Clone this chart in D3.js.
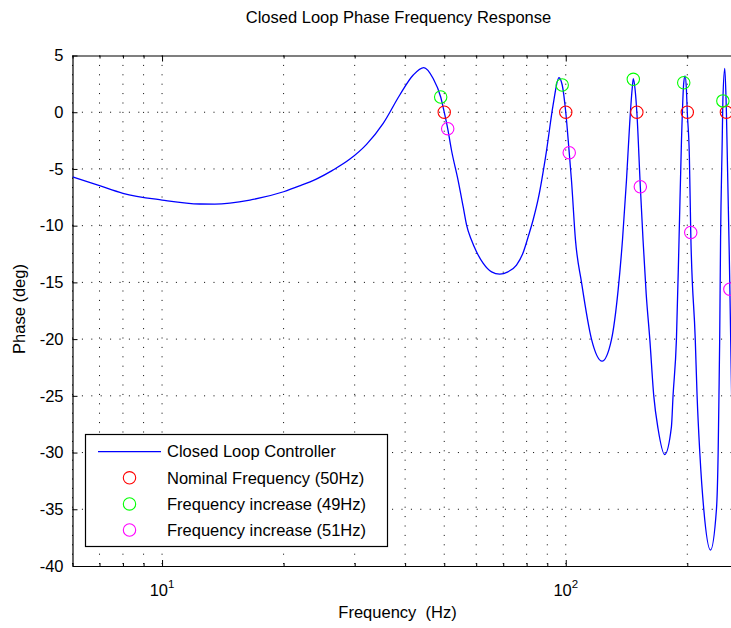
<!DOCTYPE html>
<html>

<head>
  <meta charset="utf-8">
  <title>Closed Loop Phase Frequency Response</title>
  <style>
  body {
    margin: 0;
    background: #fff;
  }
  svg {
    display: block;
    font-family: "Liberation Sans", Arial, sans-serif;
  }
  .grid line {
    stroke: #000;
    stroke-width: 1;
    stroke-dasharray: 1, 8.4;
  }
  </style>
</head>

<body>
  <svg width="731" height="628"></svg>
  <script src="https://d3js.org/d3.v7.min.js"></script>
  <script>
    // closed loop phase curve (Hz, deg)
    var curveFreq = [6, 7, 8, 10, 12.4, 13.5, 16.5, 20, 21.9, 24.1, 26.5, 29.2, 32.1, 35.3, 38.8, 41.9, 44.5, 46.9,
      49, 50, 51, 52.1, 54.1, 55.7, 56.8, 58.4, 60.1, 62.4, 65.5, 68.6, 71.9, 75.5, 78.3, 80.7, 83, 85.5, 89.6, 93,
      96.2, 98, 100, 102, 103.3, 105.7, 109.4, 115.8, 123, 129.7, 134.8, 138.2, 141.4, 144, 146, 147, 148.5,
      150, 153, 155.4, 158.2, 161.5, 165.2, 169.3, 175.8, 182.7, 184.4, 188, 190.8, 193.5, 196, 197.5, 199,
      200, 202.4, 204, 209.3, 211.5, 214.8, 219.7, 228.3, 236.2, 238.5, 239.6, 240.6, 241.8, 244.1, 245, 247.7,
      250, 255, 260];
    var curvePhase = [-5.69, -6.48, -7.15, -7.74, -8.09, -8.1, -7.74, -7.01, -6.5, -5.89, -5.1, -4.13, -2.83, -0.98, 1.52, 3.28, 3.93, 2.99,
      1.34, 0, -1.45, -3.33, -5.98, -8.33, -9.95, -11.27, -12.3, -13.3, -14.07, -14.27, -14.07, -13.47, -12.44, -10.98, -9.5, -7.6, -3.4, 0.6,
      3.04, 2.4, 0, -3.57, -5.98, -11.27, -15, -20, -21.94, -20.09, -15.68, -11.27, -5.98, -1, 2, 2.95, 2,
      0, -6.57, -11.27, -16, -20, -25, -27.9, -30.17, -27.73, -25, -20, -11.27, -2.45, 2.6, 3.2, 2,
      0, -3.92, -10.6, -20, -25, -30, -35, -38.6, -35, -30, -25, -20, -11.27, -2.45, 1, 3.87,
      0, -15.6, -34];

    // markers
    var nomFreq = [50, 100, 150, 200, 250];
    var nomPhase = [0, 0, 0, 0, 0];
    var lowFreq = [49, 98, 147, 196, 245];
    var lowPhase = [1.34, 2.4, 2.9, 2.6, 1.0];
    var highFreq = [51, 102, 153, 204, 255];
    var highPhase = [-1.45, -3.57, -6.57, -10.6, -15.6];

    var yTicks = [5, 0, -5, -10, -15, -20, -25, -30, -35, -40];
    var xMajor = [10, 100];
    var xMajorExp = ["1", "2"];
    var legendLabels = ["Closed Loop Controller", "Nominal Frequency (50Hz)",
      "Frequency increase (49Hz)", "Frequency increase (51Hz)"];
    var legendColors = ["#0000ff", "#ff0000", "#00ff00", "#ff00ff"];

    var svg = d3.select("svg");
    var plotLeft = 72.5, plotTop = 55.5, plotBottom = 566, decade = 403.7;
    var fontSize = 16.5;

    var xScale = d3.scaleLog().domain([6, 300])
      .range([plotLeft, plotLeft + decade * Math.log10(300 / 6)]);
    var yScale = d3.scaleLinear().domain([-40, 5]).range([plotBottom, plotTop]);
    var xRight = xScale.range()[1];

    svg.append("defs").append("clipPath").attr("id", "plotClip")
      .append("rect")
      .attr("x", plotLeft).attr("y", plotTop)
      .attr("width", xRight - plotLeft).attr("height", plotBottom - plotTop);

    // grid
    var grid = svg.append("g").attr("class", "grid");
    grid.selectAll(".vg").data(xScale.ticks()).enter().append("line")
      .attr("x1", d => xScale(d)).attr("x2", d => xScale(d))
      .attr("y1", plotTop).attr("y2", plotBottom);
    grid.selectAll(".hg").data(yTicks.slice(1, -1)).enter().append("line")
      .attr("x1", plotLeft).attr("x2", xRight)
      .attr("y1", d => yScale(d)).attr("y2", d => yScale(d));

    // axes
    var isMajor = d => xMajor.indexOf(d) >= 0;
    var bottomAxis = svg.append("g")
      .attr("transform", "translate(0," + plotBottom + ")")
      .call(d3.axisBottom(xScale).tickValues(xScale.ticks()).tickSizeInner(-3).tickSizeOuter(0).tickFormat(""));
    var topAxis = svg.append("g")
      .attr("transform", "translate(0," + plotTop + ")")
      .call(d3.axisTop(xScale).tickValues(xScale.ticks()).tickSizeInner(-3).tickSizeOuter(0).tickFormat(""));
    [bottomAxis, topAxis].forEach(function (g, i) {
      g.selectAll(".tick line")
        .attr("y2", d => (isMajor(d) ? 6 : 3) * (i === 0 ? -1 : 1));
    });
    // plain hyphen minus like the original, not d3's unicode minus
    var leftAxis = svg.append("g")
      .attr("transform", "translate(" + plotLeft + ",0)")
      .call(d3.axisLeft(yScale).tickValues(yTicks).tickSizeInner(-5).tickSizeOuter(0).tickPadding(9)
        .tickFormat(d => String(d)));
    leftAxis.selectAll(".tick text").attr("font-size", fontSize).attr("fill", "#000")
      .attr("font-family", "Liberation Sans, Arial, sans-serif");

    svg.selectAll(".domain").attr("stroke", "#000").attr("stroke-width", 1.2);
    svg.selectAll(".tick line").attr("stroke", "#000");

    // decade labels 10^1, 10^2
    var xLabels = svg.append("g").attr("font-size", fontSize).attr("text-anchor", "middle");
    xMajor.forEach(function (v, i) {
      var t = xLabels.append("text").attr("x", xScale(v)).attr("y", 596);
      t.append("tspan").text("10");
      t.append("tspan").attr("dy", -8).attr("font-size", 11.5).text(xMajorExp[i]);
    });

    // curve
    var curveData = curveFreq.map((f, i) => ({ f: f, p: curvePhase[i] }));
    var line = d3.line()
      .x(d => xScale(d.f))
      .y(d => yScale(d.p))
      .curve(d3.curveMonotoneX);
    var plot = svg.append("g").attr("clip-path", "url(#plotClip)");
    plot.append("path")
      .attr("d", line(curveData))
      .attr("fill", "none")
      .attr("stroke", legendColors[0])
      .attr("stroke-width", 1.3);

    var markerSets = [[nomFreq, nomPhase], [lowFreq, lowPhase], [highFreq, highPhase]];
    markerSets.forEach(function (s, k) {
      plot.append("g").selectAll("circle")
        .data(s[0].map((f, i) => ({ f: f, p: s[1][i] })))
        .enter().append("circle")
        .attr("cx", d => xScale(d.f))
        .attr("cy", d => yScale(d.p))
        .attr("r", 6.2)
        .attr("fill", "none")
        .attr("stroke", legendColors[k + 1])
        .attr("stroke-width", 1.1);
    });

    // legend
    var legend = svg.append("g");
    legend.append("rect")
      .attr("x", 85.5).attr("y", 434.5).attr("width", 302).attr("height", 112)
      .attr("fill", "#fff").attr("stroke", "#000").attr("stroke-width", 1.2);
    var rowY = d3.scalePoint().domain(legendLabels).range([451.7, 530]);
    legend.append("line")
      .attr("x1", 98).attr("x2", 161)
      .attr("y1", rowY(legendLabels[0])).attr("y2", rowY(legendLabels[0]))
      .attr("stroke", legendColors[0]).attr("stroke-width", 1.3);
    legend.selectAll(".lm").data(legendLabels.slice(1)).enter().append("circle")
      .attr("cx", 129.5).attr("cy", d => rowY(d)).attr("r", 6.2)
      .attr("fill", "none").attr("stroke-width", 1.1)
      .attr("stroke", (d, i) => legendColors[i + 1]);
    legend.selectAll(".lt").data(legendLabels).enter().append("text")
      .attr("x", 167).attr("y", d => rowY(d)).attr("dy", "0.35em")
      .attr("font-size", fontSize).text(d => d);

    // titles
    svg.append("text").attr("x", 398.5).attr("y", 23).attr("text-anchor", "middle")
      .attr("font-size", fontSize).text("Closed Loop Phase Frequency Response");
    svg.append("text").attr("x", 397.5).attr("y", 618).attr("text-anchor", "middle")
      .attr("font-size", fontSize).style("white-space", "pre").text("Frequency  (Hz)");
    svg.append("text").attr("transform", "translate(25,309) rotate(-90)")
      .attr("text-anchor", "middle").attr("font-size", fontSize).text("Phase (deg)");
  </script>

</body>

</html>
